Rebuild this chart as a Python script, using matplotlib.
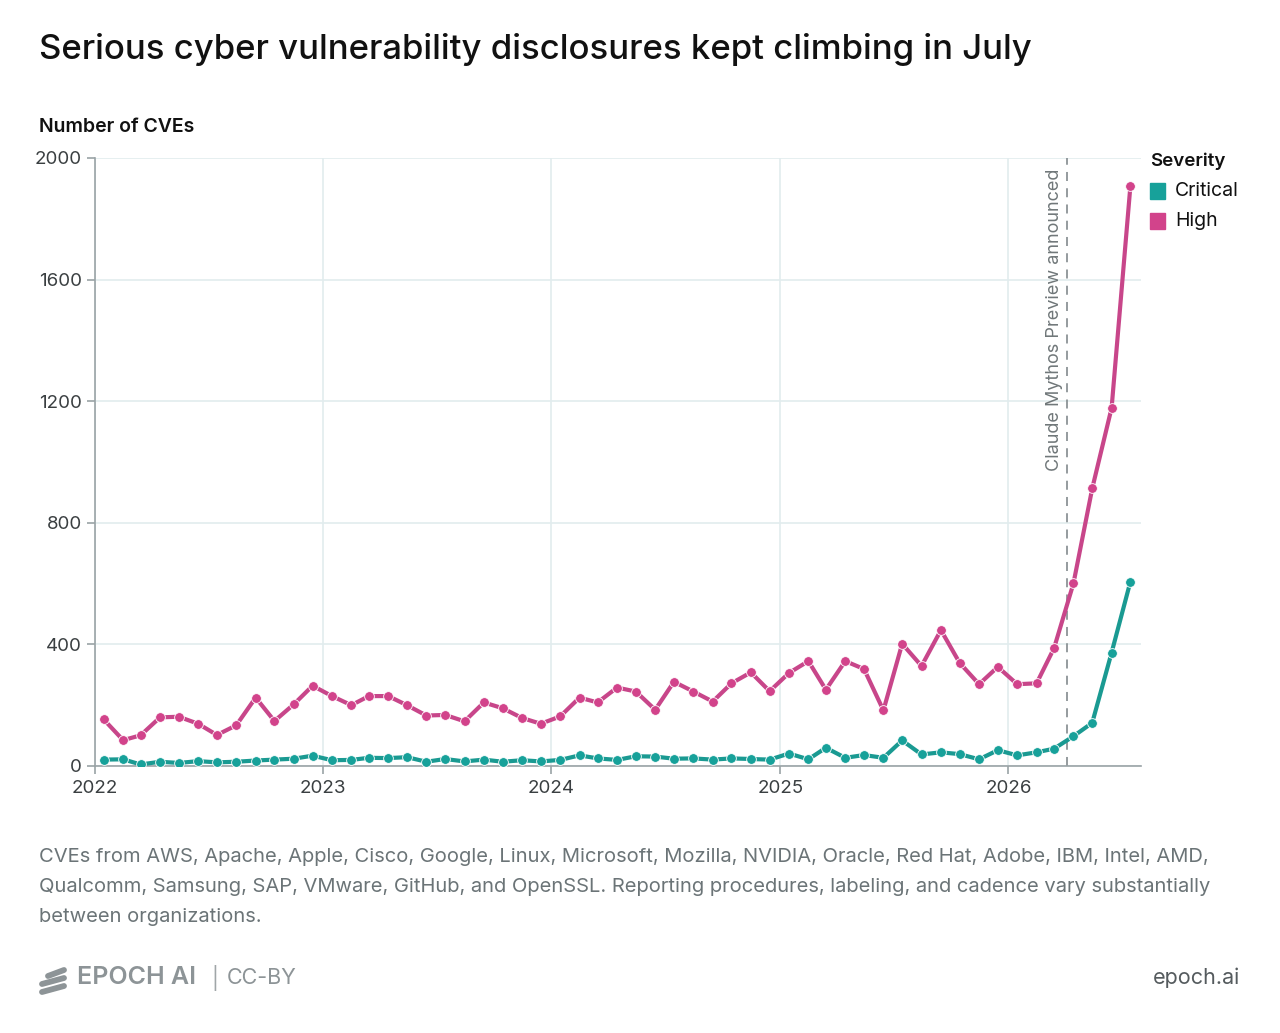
import datetime as dt
import matplotlib
matplotlib.use('Agg')
import matplotlib.pyplot as plt
import matplotlib.dates as mdates
from matplotlib.lines import Line2D
from matplotlib.patches import Rectangle

plt.rcParams['font.family'] = ['Inter', 'DejaVu Sans']

# monthly CVE counts, Jan 2022 .. Jul 2026
months = [dt.date(2022 + i // 12, i % 12 + 1, 15) for i in range(55)]
high = [153, 85, 101, 160, 162, 139, 102, 134, 225, 148, 203, 264,
        230, 200, 230, 230, 200, 166, 168, 147, 209, 190, 158, 139,
        163, 225, 209, 258, 245, 185, 277, 245, 212, 272, 308, 246,
        306, 345, 251, 345, 319, 183, 402, 329, 447, 339, 269, 326,
        269, 272, 388, 601, 913, 1178, 1907]
critical = [21, 22, 5, 14, 10, 16, 12, 14, 18, 21, 24, 34,
            19, 20, 27, 26, 29, 14, 23, 15, 21, 14, 19, 15,
            20, 35, 25, 20, 32, 31, 24, 25, 21, 25, 23, 21,
            41, 22, 60, 27, 36, 27, 84, 38, 45, 39, 22, 52,
            35, 45, 57, 98, 142, 373, 606]
series_names = ['Critical', 'High']
event_date = dt.date(2026, 4, 5)
event_label = 'Claude Mythos Preview announced'
yticks = [0, 400, 800, 1200, 1600, 2000]
years = [2022, 2023, 2024, 2025, 2026]

TEAL = '#17a19a'
PINK = '#d2438b'
TEAL_LINE = '#1a9a92'
PINK_LINE = '#c8468a'
GRID = '#e2ecee'
AXIS = '#9aa3a6'
GREY_TEXT = '#6b7477'

fig = plt.figure(figsize=(12.8, 10.33), dpi=100)
ax = fig.add_axes([95 / 1280, 1 - 766 / 1033, (1141 - 95) / 1280, (766 - 158) / 1033])

ax.plot(months, critical, color=TEAL_LINE, lw=3, marker='o', ms=7,
        mfc=TEAL, mec='white', mew=0.6, zorder=3)
ax.plot(months, high, color=PINK_LINE, lw=3, marker='o', ms=7,
        mfc=PINK, mec='white', mew=0.6, zorder=3)

ax.axvline(event_date, color='#8c9396', lw=1.3, ls=(0, (5, 4)), zorder=2)
ax.text(mdates.date2num(event_date) - 6, 1965, event_label, rotation=90,
        ha='right', va='top', fontsize=13, color='#707779')

ax.set_xlim(dt.date(2022, 1, 1), dt.date(2026, 8, 1))
ax.set_ylim(0, 2000)
ax.set_yticks(yticks)
ax.set_yticklabels([str(v) for v in yticks])
ax.set_xticks([dt.date(y, 1, 1) for y in years])
ax.set_xticklabels([str(y) for y in years])
ax.grid(True, color=GRID, lw=1.2, zorder=0)
ax.set_axisbelow(True)
for s in ['top', 'right']:
    ax.spines[s].set_visible(False)
for s in ['left', 'bottom']:
    ax.spines[s].set_color(AXIS)
    ax.spines[s].set_linewidth(1.2)
ax.tick_params(axis='both', colors=AXIS, labelcolor='#3a3f41', labelsize=13.5,
               length=6, width=1.2)
ax.tick_params(axis='x', pad=4)

# titles
fig.text(39 / 1280, 1 - 50 / 1033, 'Serious cyber vulnerability disclosures kept climbing in July',
         fontsize=25, fontweight='medium', color='#111111', va='center')
fig.text(39 / 1280, 1 - 127 / 1033, 'Number of CVEs', fontsize=14,
         fontweight='semibold', color='#111111', va='center')

# legend
fig.text(1150 / 1280, 1 - 161 / 1033, 'Severity', fontsize=13.5,
         fontweight='semibold', color='#111111', va='center')
for i, (name, col) in enumerate(zip(series_names, [TEAL, PINK])):
    yc = 191 + 30 * i
    fig.patches.append(Rectangle((1150 / 1280, 1 - (yc + 8) / 1033), 15 / 1280, 16 / 1033,
                                 transform=fig.transFigure, color=col))
    fig.text(1175 / 1280, 1 - yc / 1033, name, fontsize=14, color='#111111', va='center')

# footnote
note = ('CVEs from AWS, Apache, Apple, Cisco, Google, Linux, Microsoft, Mozilla, NVIDIA, Oracle, Red Hat, Adobe, IBM, Intel, AMD,\n'
        'Qualcomm, Samsung, SAP, VMware, GitHub, and OpenSSL. Reporting procedures, labeling, and cadence vary substantially\n'
        'between organizations.')
fig.text(39 / 1280, 1 - 848 / 1033, note, fontsize=14.5, color=GREY_TEXT,
         va='top', linespacing=1.87)

# logo
LOGO = '#8d9497'
for k in range(3):
    y0 = 976 + 8 * k
    x0 = 42 if k else 48
    fig.lines.append(Line2D([x0 / 1280, 64 / 1280], [1 - y0 / 1033, 1 - (y0 - 6) / 1033],
                            transform=fig.transFigure, color=LOGO, lw=4.2,
                            solid_capstyle='round'))
fig.text(77 / 1280, 1 - 978 / 1033, 'EPOCH AI', fontsize=18, fontweight='semibold',
         color=LOGO, va='center')
fig.text(211 / 1280, 1 - 978 / 1033, '|', fontsize=15, color='#a0a6a8', va='center')
fig.text(227 / 1280, 1 - 978 / 1033, 'CC-BY', fontsize=15.5, color=LOGO, va='center')
fig.text(1240 / 1280, 1 - 978 / 1033, 'epoch.ai', fontsize=15.5, color='#555b5e',
         ha='right', va='center')

fig.savefig('out.png', dpi=100, facecolor='white')
